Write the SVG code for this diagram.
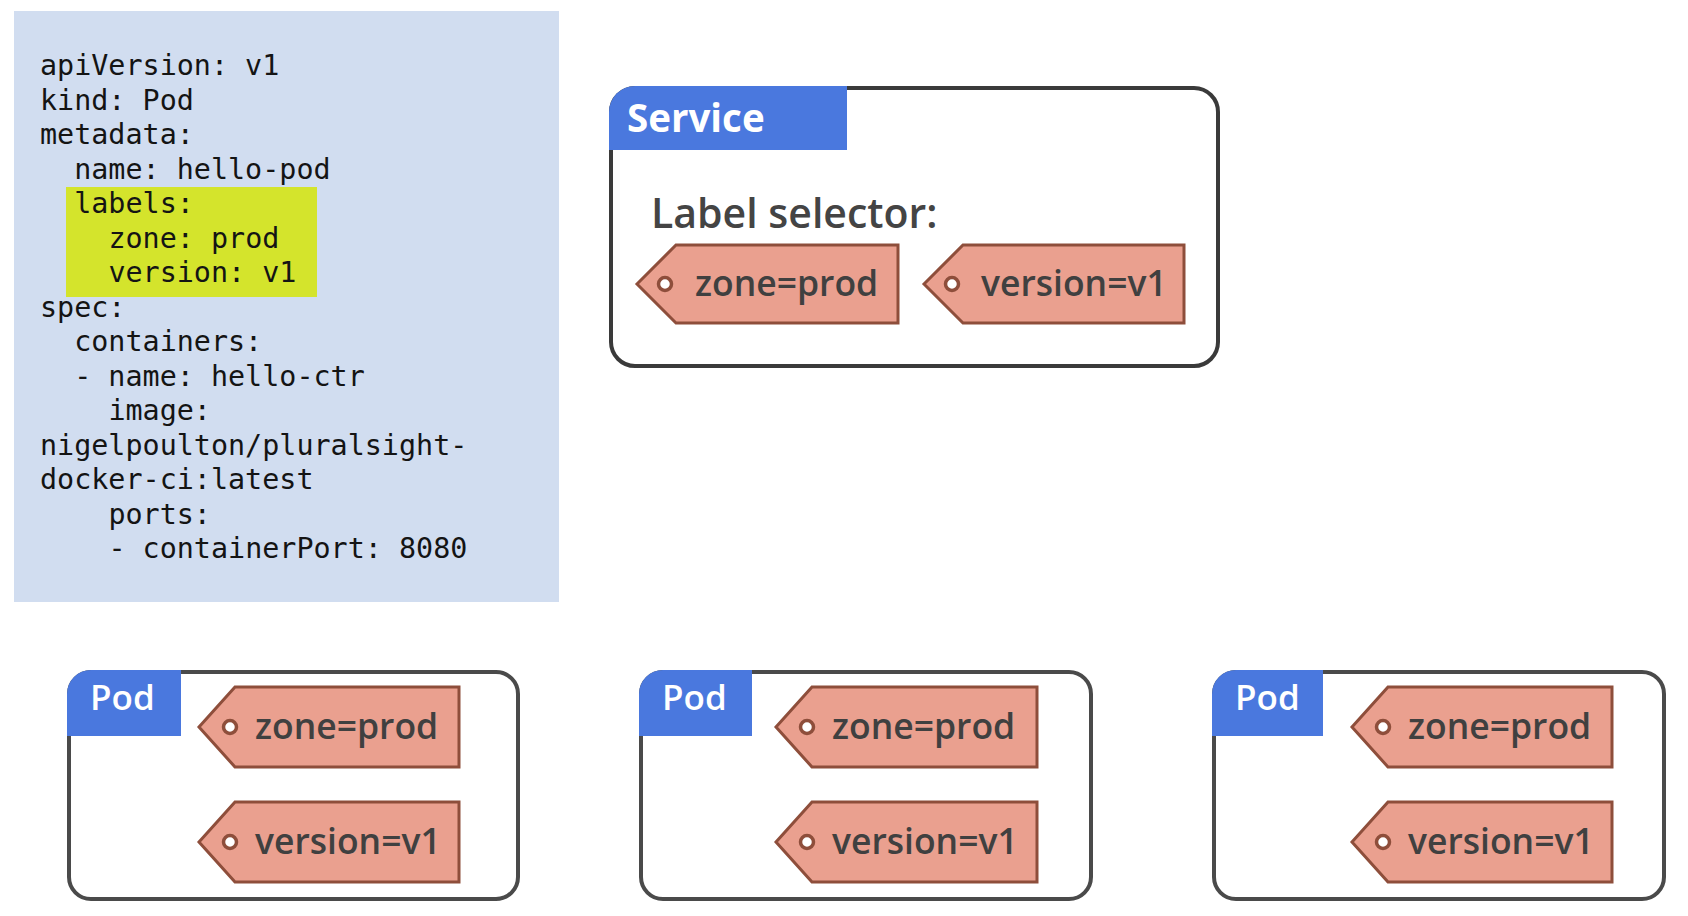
<svg xmlns="http://www.w3.org/2000/svg" width="1688" height="916" viewBox="0 0 1688 916">
<defs>
<style>
.code{font-family:"DejaVu Sans Mono","Liberation Mono",monospace;font-size:28.4px;fill:#141414;}
.box{fill:#ffffff;stroke:#3a3a3a;stroke-width:4;}
.pod{fill:#ffffff;stroke:#4a4a4a;stroke-width:4;}
.hdr{fill:#4a78de;}
.hdrtxt{font-family:"Open Sans","Liberation Sans",sans-serif;fill:#ffffff;}
.tag{fill:#eaa08f;stroke:#8e4e3b;stroke-width:3;stroke-linejoin:miter;}
.hole{fill:#ffffff;stroke:#8e4e3b;stroke-width:3.5;}
.tagtxt{font-family:"Open Sans","Liberation Sans",sans-serif;font-size:35.5px;font-weight:600;fill:#404040;}
.sel{font-family:"Open Sans","Liberation Sans",sans-serif;font-size:41px;font-weight:600;fill:#444444;}
</style>
</defs>
<rect width="1688" height="916" fill="#ffffff"/>

<g id="pod-yaml">
<rect x="14" y="11" width="545" height="591" fill="#d1ddf0"/>
<rect x="66" y="187" width="251" height="110" fill="#d4e42c"/>
<text class="code" x="40" y="75">apiVersion: v1</text>
<text class="code" x="40" y="109.5">kind: Pod</text>
<text class="code" x="40" y="144">metadata:</text>
<text class="code" x="74.2" y="178.5">name: hello-pod</text>
<text class="code" x="74.2" y="213">labels:</text>
<text class="code" x="108.4" y="247.5">zone: prod</text>
<text class="code" x="108.4" y="282">version: v1</text>
<text class="code" x="40" y="316.5">spec:</text>
<text class="code" x="74.2" y="351">containers:</text>
<text class="code" x="74.2" y="385.5">- name: hello-ctr</text>
<text class="code" x="108.4" y="420">image:</text>
<text class="code" x="40" y="454.5">nigelpoulton/pluralsight-</text>
<text class="code" x="40" y="489">docker-ci:latest</text>
<text class="code" x="108.4" y="523.5">ports:</text>
<text class="code" x="108.4" y="558">- containerPort: 8080</text>
</g>

<g id="service">
<rect class="box" x="611" y="88" width="607" height="278" rx="24" ry="24"/>
<path class="hdr" d="M609,150 V112 A26,26 0 0 1 635,86 H847 V150 Z"/>
<text class="hdrtxt" x="627" y="132" font-size="38.5" font-weight="700">Service</text>
<text class="sel" x="651" y="228">Label selector:</text>
<g id="svc-tag-zone">
<path class="tag" d="M637,284 L676,245 H898 V323 H676 Z"/>
<circle class="hole" cx="665" cy="284" r="6.5"/>
<text class="tagtxt" x="695" y="296">zone=prod</text>
</g>
<g id="svc-tag-version">
<path class="tag" d="M924,284 L963,245 H1184 V323 H963 Z"/>
<circle class="hole" cx="952" cy="284" r="6.5"/>
<text class="tagtxt" x="981" y="296">version=v1</text>
</g>
</g>

<g id="pod1">
<rect class="pod" x="69" y="672" width="449" height="227" rx="22" ry="22"/>
<path class="hdr" d="M67,736 V694 A24,24 0 0 1 91,670 H181 V736 Z"/>
<text class="hdrtxt" x="90" y="710" font-size="35" font-weight="600">Pod</text>
<path class="tag" d="M199,727 L235,687 H459 V767 H235 Z"/>
<circle class="hole" cx="230" cy="727" r="6.5"/>
<text class="tagtxt" x="255" y="739">zone=prod</text>
<path class="tag" d="M199,842 L235,802 H459 V882 H235 Z"/>
<circle class="hole" cx="230" cy="842" r="6.5"/>
<text class="tagtxt" x="255" y="854">version=v1</text>
</g>

<g id="pod2">
<rect class="pod" x="641" y="672" width="450" height="227" rx="22" ry="22"/>
<path class="hdr" d="M639,736 V694 A24,24 0 0 1 663,670 H752 V736 Z"/>
<text class="hdrtxt" x="662" y="710" font-size="35" font-weight="600">Pod</text>
<path class="tag" d="M776,727 L812,687 H1037 V767 H812 Z"/>
<circle class="hole" cx="807" cy="727" r="6.5"/>
<text class="tagtxt" x="832" y="739">zone=prod</text>
<path class="tag" d="M776,842 L812,802 H1037 V882 H812 Z"/>
<circle class="hole" cx="807" cy="842" r="6.5"/>
<text class="tagtxt" x="832" y="854">version=v1</text>
</g>

<g id="pod3">
<rect class="pod" x="1214" y="672" width="450" height="227" rx="22" ry="22"/>
<path class="hdr" d="M1212,736 V694 A24,24 0 0 1 1236,670 H1323 V736 Z"/>
<text class="hdrtxt" x="1235" y="710" font-size="35" font-weight="600">Pod</text>
<path class="tag" d="M1352,727 L1388,687 H1612 V767 H1388 Z"/>
<circle class="hole" cx="1383" cy="727" r="6.5"/>
<text class="tagtxt" x="1408" y="739">zone=prod</text>
<path class="tag" d="M1352,842 L1388,802 H1612 V882 H1388 Z"/>
<circle class="hole" cx="1383" cy="842" r="6.5"/>
<text class="tagtxt" x="1408" y="854">version=v1</text>
</g>

<g id="connectors"/>
</svg>
